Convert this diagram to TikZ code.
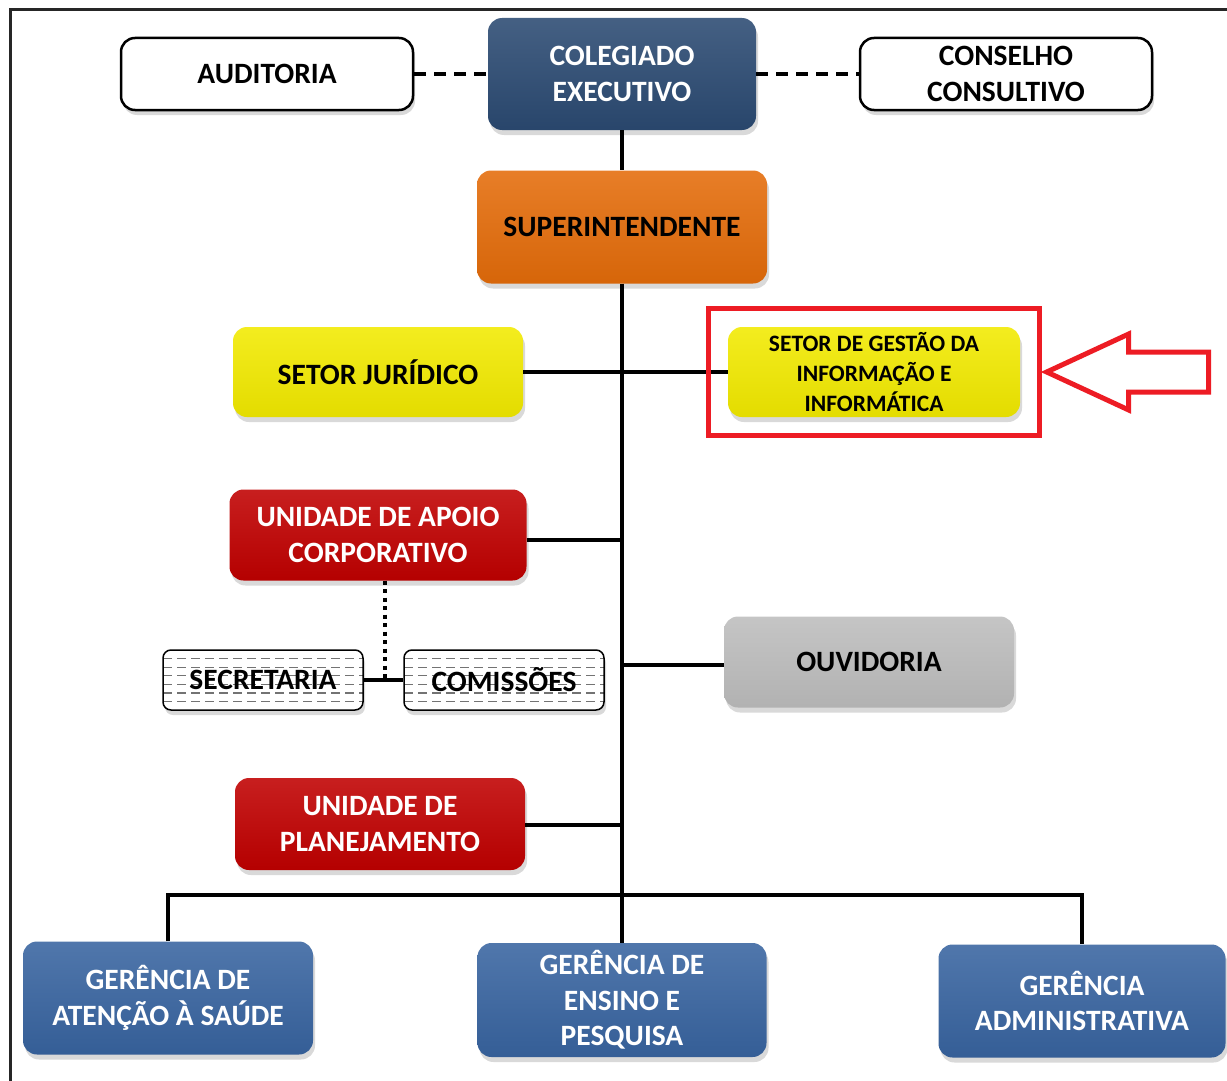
\documentclass[tikz,border=0pt]{standalone}
\usepackage{fontspec}
\setmainfont{Carlito}
\usetikzlibrary{positioning,fit,shadows,calc}
\definecolor{navyA}{HTML}{2B4A72}
\definecolor{navyB}{HTML}{3864A0}
\definecolor{orangeS}{HTML}{E46C0A}
\definecolor{yellowS}{HTML}{F2EA00}
\definecolor{redS}{HTML}{C00000}
\definecolor{grayS}{HTML}{BDBDBD}
\definecolor{markR}{HTML}{ED1C24}
\tikzset{org/.style={rounded corners=14pt, inner sep=0pt, align=center,
    font=\bfseries\fontsize{29.5}{35.5}\selectfont,
    drop shadow={shadow xshift=2pt, shadow yshift=-5pt, opacity=.3}}}
\tikzset{wbox/.style={org, draw=black, line width=2.5pt, fill=white,
    minimum width=292pt, minimum height=72pt}}
\tikzset{colbox/.style={org, top color=#1!88!white, bottom color=#1!94!black,
    minimum width=290pt}}
\tikzset{hatchbox/.style={org, draw=black, line width=1.5pt, fill=white,
    rounded corners=8pt, minimum width=200pt, minimum height=60pt,
    path picture={\foreach \k in {1,...,6}
      \draw[black!55, line width=1.3pt, dash pattern=on 9pt off 5pt]
      ([yshift=-\k*8.6pt]path picture bounding box.north west) --
      ([yshift=-\k*8.6pt]path picture bounding box.north east);}}}
\tikzset{conn/.style={line width=4pt}}
\tikzset{dconn/.style={line width=4pt, dash pattern=on 12pt off 8pt}}
\tikzset{dotconn/.style={line width=4pt, dash pattern=on 4pt off 4.5pt}}
\tikzset{mark it/.style={draw=markR, line width=5pt}}
\begin{document}
\begin{tikzpicture}[x=1pt,y=-1pt]
\useasboundingbox (0,0) rectangle (1227,1081);
\draw[line width=3pt, black!85] (10,1081) |- (1227,10);

\node[wbox] (aud) at (267,74) {AUDITORIA};
\node[colbox=navyA, text=white, minimum width=268pt, minimum height=112pt] (coleg) at (622,74) {COLEGIADO\\EXECUTIVO};
\node[wbox] (cons) at (1006,74) {CONSELHO\\CONSULTIVO};
\node[colbox=orangeS, minimum height=113pt] (sup) at (622,227) {SUPERINTENDENTE};
\node[colbox=yellowS, minimum height=90pt] (jur) at (378,372) {SETOR JURÍDICO};
\node[colbox=yellowS, minimum width=292pt, minimum height=90pt,
  font=\bfseries\fontsize{23.5}{30}\selectfont] (gest) at (874,372) {SETOR DE GESTÃO DA\\INFORMAÇÃO E\\INFORMÁTICA};
\node[colbox=redS, text=white, minimum width=297pt, minimum height=91pt] (apoio) at (378,535) {UNIDADE DE APOIO\\CORPORATIVO};
\node[hatchbox] (sec) at (263,680) {SECRETARIA};
\node[hatchbox] (com) at (504,680) {COMISSÕES};
\node[colbox=grayS, minimum height=91pt] (ouv) at (869,662) {OUVIDORIA};
\node[colbox=redS, text=white, minimum height=92pt] (plan) at (380,824) {UNIDADE DE\\PLANEJAMENTO};
\node[colbox=navyB, text=white, minimum height=113pt] (gat) at (168,998) {GERÊNCIA DE\\ATENÇÃO À SAÚDE};
\node[colbox=navyB, text=white, minimum width=289pt, minimum height=114pt] (gens) at (622,1000) {GERÊNCIA DE\\ENSINO E\\PESQUISA};
\node[colbox=navyB, text=white, minimum width=287pt, minimum height=113pt] (gadm) at (1082,1001) {GERÊNCIA\\ADMINISTRATIVA};

\coordinate (bus) at (622,895);
\coordinate (split) at (385,680);
\path (aud) edge[dconn] (coleg)
      (coleg) edge[dconn] (cons)
      (coleg) edge[conn] (sup)
      (sup) edge[conn] (gens)
      (jur) edge[conn] (gest)
      (sec) edge[conn] (com);
\draw[conn] (apoio.east |- 0,540) -- (622,540);
\draw[conn] (ouv.west |- 0,665) -- (622,665);
\draw[conn] (plan.east |- 0,825) -- (622,825);
\draw[conn] (gat.north) |- (bus) -| (gadm.north);
\draw[dotconn] (apoio.south -| split) -- (split);

\node[mark it, fit=(gest), inner xsep=19pt, inner ysep=18pt] (hl) {};
\coordinate (tip) at ([xshift=5pt]hl.east);
\draw[mark it, fill=white, line join=miter] (tip) -- ++(82,-38) -- ++(0,18) -- ++(80,0)
  -- ++(0,40) -- ++(-80,0) -- ++(0,18) -- cycle;
\end{tikzpicture}
\end{document}
